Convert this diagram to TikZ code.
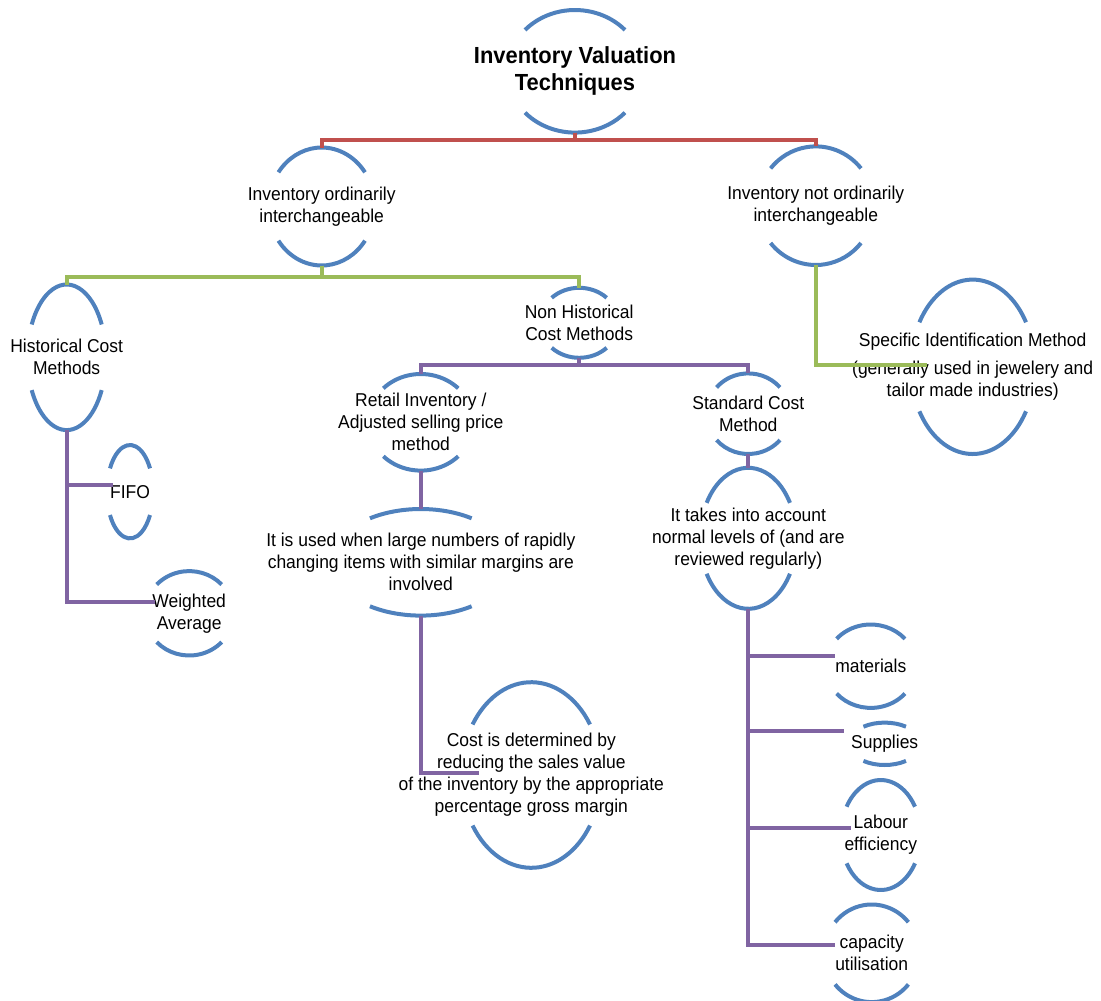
\documentclass[tikz,border=0pt]{standalone}
\usepackage{fontspec}
\setmainfont[FakeStretch=0.94]{Liberation Sans}
\usepackage{tikz}

\definecolor{arcblue}{HTML}{4F81BD}
\definecolor{busred}{HTML}{C0504D}
\definecolor{busgreen}{HTML}{9BBB59}
\definecolor{buspurple}{HTML}{8064A2}

\tikzset{
  arcline/.style={draw=arcblue, line width=4pt},
  label text/.style={align=center, inner sep=0pt, font=\fontsize{18.6}{22}\selectfont},
  redline/.style={draw=busred, line width=4pt},
  greenline/.style={draw=busgreen, line width=4pt},
  purpleline/.style={draw=buspurple, line width=4pt}
}

% top and bottom arcs round a node: name, x radius, y radius, angle
\newcommand{\bracketarcs}[4]{%
  \draw[arcline] (#1.center) ++(#4:#2pt and #3pt)
    arc[start angle=#4, end angle=180-#4, x radius=#2pt, y radius=#3pt];
  \draw[arcline] (#1.center) ++({180+#4}:#2pt and #3pt)
    arc[start angle=180+#4, end angle=360-#4, x radius=#2pt, y radius=#3pt];
  \coordinate (#1-t) at ([yshift=#3pt]#1.center);
  \coordinate (#1-b) at ([yshift=-#3pt]#1.center);
  \coordinate (#1-w) at ([xshift=-#2pt]#1.center);
}

\begin{document}
\begin{tikzpicture}[x=1pt, y=-1pt]
            \useasboundingbox (0,0) rectangle (1101,1001);

            % Nodes
            \node[label text, font=\fontsize{23.3}{27}\selectfont\bfseries] (title) at (575,71.3) {Inventory Valuation\\Techniques};
            \node[label text] (ioi) at (321.7,206.5) {Inventory ordinarily\\interchangeable};
            \node[label text] (inoi) at (815.8,205.7) {Inventory not ordinarily\\interchangeable};
            \node[label text] (sim) at (972.7,366.8) {Specific Identification Method\\[6pt](generally used in jewelery and\\tailor made industries)};
            \node[label text] (hcm) at (66.7,357.3) {Historical Cost\\Methods};
            \node[label text] (nhcm) at (579.2,322.8) {Non Historical\\Cost Methods};
            \node[label text] (fifo) at (130,491.7) {FIFO};
            \node[label text] (wa) at (189.2,613.3) {Weighted\\Average};
            \node[label text] (ri) at (420.8,422.3) {Retail Inventory /\\Adjusted selling price\\method};
            \node[label text] (iu) at (420.8,562.3) {It is used when large numbers of rapidly\\changing items with similar margins are\\involved};
            \node[label text] (scm) at (748.3,413.7) {Standard Cost\\Method};
            \node[label text] (tia) at (748.3,538.3) {It takes into account\\normal levels of (and are\\reviewed regularly)};
            \node[label text] (cd) at (531.3,775) {Cost is determined by\\reducing the sales value\\of the inventory by the appropriate\\percentage gross margin};
            \node[label text] (mat) at (870.8,666.2) {materials};
            \node[label text] (sup) at (884.7,743.8) {Supplies};
            \node[label text] (lab) at (880.8,835) {Labour\\efficiency};
            \node[label text] (cap) at (871.7,953.3) {capacity\\utilisation};

            % Arcs
            \bracketarcs{title}{67.7}{61.3}{42.4}
            \bracketarcs{ioi}{53.1}{59}{35.4}
            \bracketarcs{inoi}{58.2}{59.3}{39}
            \bracketarcs{sim}{62}{87.2}{30.7}
            \bracketarcs{hcm}{39.2}{72.8}{26.8}
            \bracketarcs{nhcm}{39.3}{35}{45.6}
            \bracketarcs{fifo}{23.1}{46.7}{30}
            \bracketarcs{wa}{44.4}{42.2}{43}
            \bracketarcs{ri}{52.7}{48.3}{44.7}
            \bracketarcs{iu}{90}{53.3}{55.6}
            \bracketarcs{scm}{41.9}{40.3}{40.8}
            \bracketarcs{tia}{48.2}{70.5}{30.2}
            \bracketarcs{cd}{70}{92.8}{33}
            \bracketarcs{mat}{45.3}{41.7}{41}
            \bracketarcs{sup}{36}{21.2}{53.8}
            \bracketarcs{lab}{39.9}{55}{31}
            \bracketarcs{cap}{47.6}{48.8}{39.6}

            % Connector ends
            \coordinate (sim-in) at ([shift={(16pt,2pt)}]sim-w);
            \coordinate (fifo-in) at ([shift={(6pt,7pt)}]fifo-w);
            \coordinate (wa-in) at ([shift={(10pt,11pt)}]wa-w);
            \coordinate (cd-in) at ([shift={(18pt,2pt)}]cd-w);
            \coordinate (mat-in) at ([shift={(9.5pt,10pt)}]mat-w);
            \coordinate (sup-in) at ([shift={(-4.7pt,13pt)}]sup-w);
            \coordinate (lab-in) at ([shift={(10pt,6.7pt)}]lab-w);
            \coordinate (cap-in) at ([shift={(10.8pt,8.8pt)}]cap-w);

            % Edges
            \draw[redline] (title-b) -- ++(0,7.5) -| (ioi-t);
            \draw[redline] (title-b) -- ++(0,7.5) -| (inoi-t);
            \draw[greenline] (ioi-b) -- ++(0,11) -| (hcm-t);
            \draw[greenline] (ioi-b) -- ++(0,11) -| (nhcm-t);
            \draw[greenline] (inoi-b) |- (sim-in);
            \draw[purpleline] (hcm-b) |- (fifo-in);
            \draw[purpleline] (hcm-b) |- (wa-in);
            \draw[purpleline] (nhcm-b) -- ++(0,7.5) -| (ri-t);
            \draw[purpleline] (nhcm-b) -- ++(0,7.5) -| (scm-t);
            \draw[purpleline] (ri-b) -- (iu-t);
            \draw[purpleline] (iu-b) |- (cd-in);
            \draw[purpleline] (scm-b) -- (tia-t);
            \draw[purpleline] (tia-b) |- (mat-in);
            \draw[purpleline] (tia-b) |- (sup-in);
            \draw[purpleline] (tia-b) |- (lab-in);
            \draw[purpleline] (tia-b) |- (cap-in);
        \end{tikzpicture}
\end{document}
